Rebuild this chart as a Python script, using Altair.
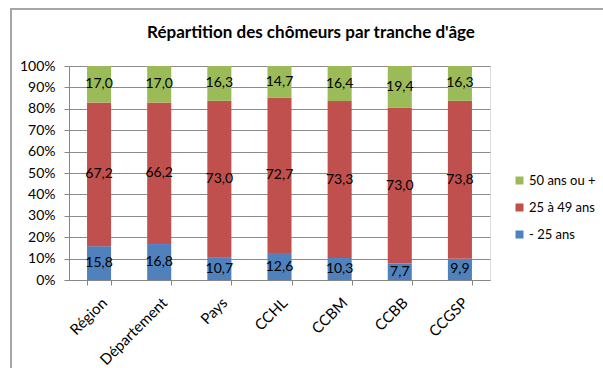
import altair as alt
import pandas as pd

# Unemployed people by age bracket, share (%) per territory
territoires = ["Région", "Département", "Pays", "CCHL", "CCBM", "CCBB", "CCGSP"]
moins_25 = [15.8, 16.8, 10.7, 12.6, 10.3, 7.7, 9.9]
de_25_a_49 = [67.2, 66.2, 73.0, 72.7, 73.3, 73.0, 73.8]
plus_50 = [17.0, 17.0, 16.3, 14.7, 16.4, 19.4, 16.3]

tranches = ["- 25 ans", "25 à 49 ans", "50 ans ou +"]
couleurs = ["#4F81BD", "#C0504D", "#9BBB59"]
titre = "Répartition des chômeurs par tranche d'âge"
graduations = [i / 10 for i in range(11)]

rows = []
for i, t in enumerate(territoires):
    for k, (nom, serie) in enumerate(zip(tranches, [moins_25, de_25_a_49, plus_50])):
        rows.append({"territoire": t, "tranche": nom, "rang": k, "valeur": serie[i]})
df = pd.DataFrame(rows)

FONT = "Lato"
W, H = 421, 214

base = alt.Chart(df).transform_stack(
    stack="valeur",
    groupby=["territoire"],
    as_=["y0", "y1"],
    offset="normalize",
    sort=[alt.SortField("rang", order="ascending")],
).transform_calculate(
    mid="(datum.y0 + datum.y1) / 2",
    etiquette="replace(format(datum.valeur, '.1f'), '.', ',')",
)

x_axis = alt.Axis(
    title=None,
    labelAngle=-45,
    labelFont=FONT,
    labelFontSize=15,
    labelColor="#000000",
    labelPadding=10,
    labelOverlap=False,
    tickBand="extent",
    tickSize=5,
    tickColor="#868686",
    domainColor="#868686",
    grid=False,
)
y_axis = alt.Axis(
    title=None,
    format=".0%",
    values=graduations,
    tickCount=11,
    labelOverlap=False,
    labelFont=FONT,
    labelFontSize=14,
    labelColor="#000000",
    labelPadding=9,
    tickSize=5,
    tickColor="#868686",
    domainColor="#868686",
    gridColor="#8C8C8C",
    gridWidth=1,
)
x_scale = alt.Scale(paddingInner=0.6, paddingOuter=0.3)
y_scale = alt.Scale(domain=[0, 1], nice=False)

bars = base.mark_bar().encode(
    x=alt.X("territoire:N", sort=territoires, scale=x_scale, axis=x_axis),
    y=alt.Y("y0:Q", scale=y_scale, axis=y_axis),
    y2="y1:Q",
    color=alt.Color(
        "tranche:N",
        scale=alt.Scale(domain=tranches, range=couleurs),
        legend=alt.Legend(
            title=None,
            values=["50 ans ou +", "25 à 49 ans", "- 25 ans"],
            orient="none",
            legendX=444,
            legendY=108,
            symbolType="square",
            symbolSize=64,
            symbolStrokeWidth=0,
            labelFont=FONT,
            labelFontSize=13,
            labelColor="#000000",
            rowPadding=13,
            labelOffset=3,
        ),
    ),
)

labels = base.mark_text(font=FONT, fontSize=14, color="#000000").encode(
    x=alt.X("territoire:N", sort=territoires, scale=x_scale, axis=x_axis),
    y=alt.Y("mid:Q", scale=y_scale, axis=y_axis),
    text="etiquette:N",
)

# chart title, drawn as text above the plot area
title = alt.Chart(pd.DataFrame({"t": [titre]})).mark_text(
    font=FONT, fontSize=17, fontWeight="bold", color="#000000", baseline="middle"
).encode(x=alt.value(242), y=alt.value(-33), text="t:N")

# outer frame (left and top edges)
frame_top = alt.Chart(df).mark_rule(color="#A6A6A6", strokeWidth=1.5).encode(
    x=alt.value(-59), x2=alt.value(560), y=alt.value(-57)
)
frame_left = alt.Chart(df).mark_rule(color="#A6A6A6", strokeWidth=1.5).encode(
    x=alt.value(-58), y=alt.value(-57), y2=alt.value(320)
)

chart = alt.layer(frame_top, frame_left, bars, labels, title).properties(
    width=W,
    height=H,
    autosize=alt.AutoSizeParams(type="none"),
    padding={"left": 69, "top": 66, "right": 113, "bottom": 88},
).configure_view(stroke=None).configure(background="#FFFFFF")

chart.save("out.html", embed_options={"renderer": "svg", "actions": False})
